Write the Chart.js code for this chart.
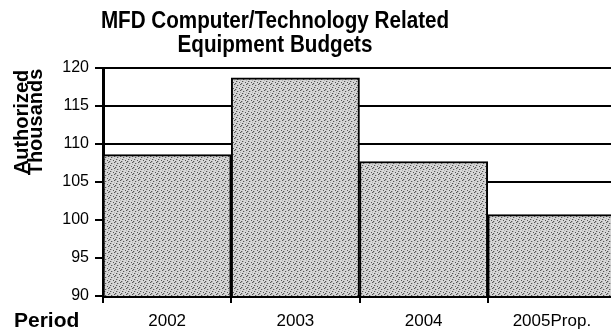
<!DOCTYPE html>
<html>
<head>
<meta charset="utf-8">
<script src="https://cdn.jsdelivr.net/npm/chart.js@4.4.1/dist/chart.umd.min.js"></script>
<style>
  html, body { margin: 0; padding: 0; background: #fff; overflow: hidden; }
  #wrap { width: 611px; height: 333px; overflow: hidden; }
</style>
</head>
<body>
<div id="wrap"><canvas id="myChart" width="616" height="333"></canvas></div>
<script>
// data
const periods = ['2002', '2003', '2004', '2005Prop.'];
const budgets = [108.6, 118.7, 107.7, 100.7];
const yMin = 90;
const yMax = 120;
const yStep = 5;

const titleLines = ['MFD Computer/Technology Related', 'Equipment Budgets'];
const yTitleLines = ['Authorized', 'Thousands'];
const xTitle = 'Period';

// stippled grey fill like the scan
function makeStipple() {
  const c = document.createElement('canvas');
  c.width = 6; c.height = 6;
  const g = c.getContext('2d');
  g.fillStyle = '#d6d6d6';
  g.fillRect(0, 0, 6, 6);
  for (let x = 0; x < 6; x++) {
    for (let y = 0; y < 6; y++) {
      const k = (x * 3 + y * 5) % 7;
      if (k === 0) { g.fillStyle = '#555'; g.fillRect(x, y, 1, 1); }
      else if (k === 3) { g.fillStyle = '#b0b0b0'; g.fillRect(x, y, 1, 1); }
    }
  }
  return g.createPattern(c, 'repeat');
}

// squeezed text helper (scan text is narrow)
function squeezeText(ctx, txt, x, y, sx) {
  ctx.save();
  ctx.translate(x, y);
  ctx.scale(sx, 1);
  ctx.fillText(txt, 0, 0);
  ctx.restore();
}

const textPlugin = {
  id: 'textPlugin',
  afterDraw(chart) {
    const ctx = chart.ctx;
    ctx.save();
    ctx.fillStyle = '#000';
    ctx.textAlign = 'center';
    ctx.textBaseline = 'alphabetic';
    ctx.font = 'bold 24px "Liberation Sans", Arial, sans-serif';
    squeezeText(ctx, titleLines[0], 275, 28, 0.86);
    squeezeText(ctx, titleLines[1], 275, 52, 0.86);

    ctx.textAlign = 'left';
    ctx.font = 'bold 21px "Liberation Sans", Arial, sans-serif';
    ctx.fillText(xTitle, 14, 327);

    // rotated two line axis title
    ctx.font = 'bold 20px "Liberation Sans", Arial, sans-serif';
    ctx.textAlign = 'center';
    ctx.translate(0, 122);
    ctx.rotate(-Math.PI / 2);
    ctx.fillText(yTitleLines[0], 0, 28);
    ctx.fillText(yTitleLines[1], 0, 42);
    ctx.restore();
  }
};

const ctx = document.getElementById('myChart');

new Chart(ctx, {
  type: 'bar',
  data: {
    labels: periods,
    datasets: [{
      label: 'Budget',
      data: budgets,
      backgroundColor: makeStipple(),
      borderColor: '#000',
      borderWidth: 2,
      borderSkipped: false,
      barPercentage: 1,
      categoryPercentage: 1
    }]
  },
  options: {
    responsive: false,
    animation: false,
    layout: { padding: { top: 68, left: 0, right: 0, bottom: 0 } },
    plugins: {
      legend: { display: false },
      title: { display: false },
      tooltip: { enabled: false }
    },
    scales: {
      x: {
        grid: { drawOnChartArea: false, color: '#000', lineWidth: 2, tickLength: 7 },
        border: { color: '#000', width: 3 },
        ticks: {
          color: '#000',
          padding: 8,
          font: { family: '"Liberation Sans", Arial, sans-serif', size: 17 }
        },
        afterFit(scale) { scale.height = 37; }
      },
      y: {
        min: yMin,
        max: yMax,
        grid: { color: '#000', lineWidth: 2, tickLength: 8 },
        border: { color: '#000', width: 3 },
        ticks: {
          stepSize: yStep,
          color: '#000',
          padding: 6,
          font: { family: '"Liberation Sans", Arial, sans-serif', size: 16 }
        },
        afterFit(scale) { scale.width = 103; }
      }
    }
  },
  plugins: [textPlugin]
});
</script>
</body>
</html>
